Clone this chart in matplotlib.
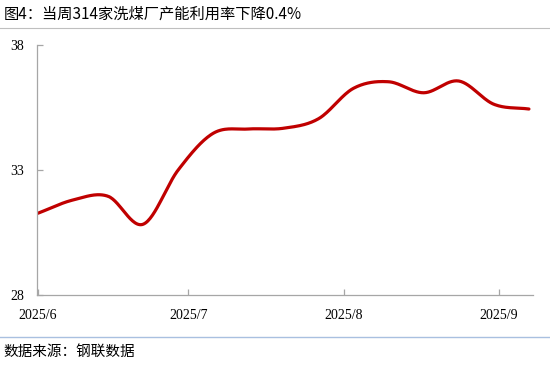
import numpy as np
import matplotlib.pyplot as plt
import matplotlib.dates as mdates

plt.rcParams['font.family'] = ['Noto Sans CJK SC', 'DejaVu Sans']

# weekly capacity utilisation of 314 coal washing plants (%)
dates = ['2025-06-01', '2025-06-08', '2025-06-15', '2025-06-22', '2025-06-29',
         '2025-07-06', '2025-07-13', '2025-07-20', '2025-07-27', '2025-08-03',
         '2025-08-10', '2025-08-17', '2025-08-24', '2025-08-31', '2025-09-07']
values = [31.27, 31.8, 31.95, 30.83, 33.0,
          34.47, 34.64, 34.67, 35.05, 36.27,
          36.53, 36.09, 36.56, 35.63, 35.44]
month_ticks = ['2025-06-01', '2025-07-01', '2025-08-01', '2025-09-01']
month_labels = ['2025/6', '2025/7', '2025/8', '2025/9']
y_ticks = [28, 33, 38]

title = '图4：当周314家洗煤厂产能利用率下降0.4%'
source = '数据来源：钢联数据'


def smooth(x, y, n=30):
    # catmull-rom spline through the points, similar to excel "smoothed line"
    x = np.asarray(x, float)
    y = np.asarray(y, float)
    px = np.concatenate([[2 * x[0] - x[1]], x, [2 * x[-1] - x[-2]]])
    py = np.concatenate([[2 * y[0] - y[1]], y, [2 * y[-1] - y[-2]]])
    xs, ys = [], []
    t = np.linspace(0, 1, n, endpoint=False)
    for i in range(1, len(px) - 2):
        for p, out in ((px, xs), (py, ys)):
            p0, p1, p2, p3 = p[i - 1], p[i], p[i + 1], p[i + 2]
            out.append(0.5 * ((2 * p1) + (-p0 + p2) * t
                              + (2 * p0 - 5 * p1 + 4 * p2 - p3) * t ** 2
                              + (-p0 + 3 * p1 - 3 * p2 + p3) * t ** 3))
    xs = np.concatenate(xs + [[x[-1]]])
    ys = np.concatenate(ys + [[y[-1]]])
    return xs, ys


x = mdates.date2num(np.array(dates, dtype='datetime64[D]'))
xt = mdates.date2num(np.array(month_ticks, dtype='datetime64[D]'))

fig = plt.figure(figsize=(5.5, 3.66), dpi=100)
ax = fig.add_axes([0.067, 0.194, 0.902, 0.683])

sx, sy = smooth(x, values)
ax.plot(sx, sy, color='#C00000', linewidth=2.3, solid_capstyle='round')

ax.set_xlim(x[0] - 0.2, x[0] + 98.8)
ax.set_ylim(28, 38)
ax.set_yticks(y_ticks)
ax.set_xticks(xt)
ax.set_xticklabels(month_labels)

for s in ['top', 'right']:
    ax.spines[s].set_visible(False)
for s in ['left', 'bottom']:
    ax.spines[s].set_color('#A6A6A6')
    ax.spines[s].set_linewidth(0.9)
ax.tick_params(direction='in', length=4.5, color='#A6A6A6', width=0.9)
ax.tick_params(axis='x', pad=10)
ax.tick_params(axis='y', pad=9)
for lab in ax.get_xticklabels() + ax.get_yticklabels():
    lab.set_family('Liberation Serif')
    lab.set_fontsize(10)
    lab.set_color('black')

fig.text(0.006, 0.962, title, fontsize=11, va='center', ha='left')
fig.add_artist(plt.Line2D([0, 1], [0.924, 0.924], color='#BFBFBF', linewidth=0.8))
fig.add_artist(plt.Line2D([0, 1], [0.079, 0.079], color='#A9C0E0', linewidth=1.0))
fig.text(0.006, 0.038, source, fontsize=10.5, va='center', ha='left')

fig.savefig('out.png', dpi=100)
